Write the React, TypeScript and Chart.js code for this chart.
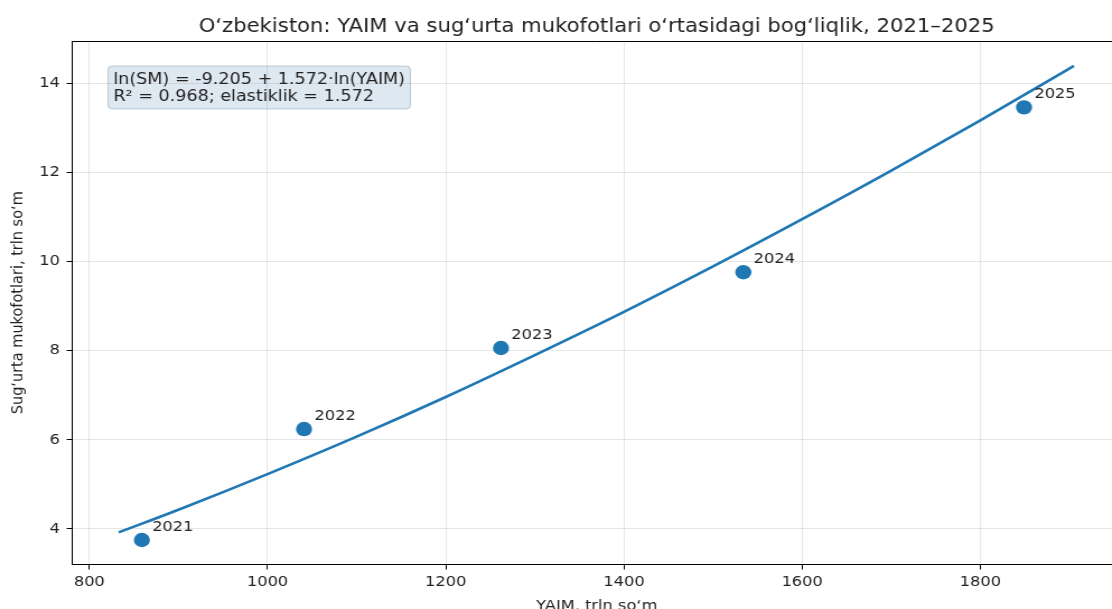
import React, { useEffect, useRef } from "react";
import { Chart, registerables } from "chart.js";

Chart.register(...registerables);

// ---- data ----
const years = ["2021", "2022", "2023", "2024", "2025"];
const gdp = [859, 1041, 1262, 1534, 1849]; // YAIM, trln so‘m
const premiums = [3.75, 6.24, 8.06, 9.76, 13.46]; // sug‘urta mukofotlari, trln so‘m

// fitted curve
const fitX = [833, 900, 1000, 1100, 1200, 1300, 1400, 1500, 1600, 1700, 1800, 1905];
const fitY = [3.92, 4.43, 5.23, 6.07, 6.96, 7.9, 8.87, 9.89, 10.95, 12.04, 13.17, 14.39];

const xTicks = [800, 1000, 1200, 1400, 1600, 1800];
const xTickLabels = ["800", "1000", "1200", "1400", "1600", "1800"];
const yTicks = [4, 6, 8, 10, 12, 14];
const yTickLabels = ["4", "6", "8", "10", "12", "14"];

const titleText = "O‘zbekiston: YAIM va sug‘urta mukofotlari o‘rtasidagi bog‘liqlik, 2021–2025";
const xTitle = "YAIM, trln so‘m";
const yTitle = "Sug‘urta mukofotlari, trln so‘m";
const boxLines = ["ln(SM) = -9.205 + 1.572·ln(YAIM)", "R² = 0.968; elastiklik = 1.572"];

// ---- layout ----
const SX = 1.12;
const W = 1010;
const H = 625;
const PLOT_LEFT = 64.55;
const PLOT_RIGHT = 1001.2;
const PLOT_TOP = 41;
const PLOT_BOTTOM = 564.5;
const X_AXIS_H = 40;
const FONT = '"DejaVu Sans", sans-serif';
const BLUE = "#1f77b4";
const TEXT = "#222";

const overlay = {
  id: "overlay",
  afterDatasetsDraw(chart: any) {
    const { ctx, chartArea: a, scales } = chart;
    ctx.save();
    // top and right spines
    ctx.strokeStyle = "#000";
    ctx.lineWidth = 1;
    ctx.beginPath();
    ctx.moveTo(a.left, a.top + 0.5);
    ctx.lineTo(a.right, a.top + 0.5);
    ctx.lineTo(a.right, a.bottom);
    ctx.stroke();

    // point labels
    ctx.fillStyle = TEXT;
    ctx.font = `14.5px ${FONT}`;
    ctx.textAlign = "left";
    ctx.textBaseline = "alphabetic";
    years.forEach((yr, i) => {
      const px = scales.x.getPixelForValue(gdp[i]);
      const py = scales.y.getPixelForValue(premiums[i]);
      ctx.fillText(yr, px + 9.2, py - 9);
    });

    // annotation box
    ctx.font = `15.7px ${FONT}`;
    const tx = 101.2;
    const b1 = 83.6;
    const lh = 17.6;
    const wmax = Math.max(...boxLines.map((l) => ctx.measureText(l).width));
    const bx = tx - 4.8;
    const by = 66;
    const bw = wmax + 9.6;
    const bh = 43;
    ctx.beginPath();
    ctx.roundRect(bx, by, bw, bh, 4);
    ctx.fillStyle = "rgba(70,130,180,0.18)";
    ctx.fill();
    ctx.strokeStyle = "rgba(90,120,150,0.35)";
    ctx.lineWidth = 1;
    ctx.stroke();
    ctx.fillStyle = TEXT;
    boxLines.forEach((l, i) => ctx.fillText(l, tx, b1 + i * lh));

    // title
    const cx = (a.left + a.right) / 2;
    ctx.font = `18.9px ${FONT}`;
    ctx.textAlign = "center";
    ctx.fillText(titleText, cx, 31.5);

    // x axis title
    ctx.font = `14.5px ${FONT}`;
    ctx.fillText(xTitle, cx, 609.5);

    // y axis title
    ctx.translate(19.6, (a.top + a.bottom) / 2);
    ctx.rotate(-Math.PI / 2);
    ctx.fillText(yTitle, 0, 0);
    ctx.restore();
  },
};

export default function App() {
  const ref = useRef<HTMLCanvasElement | null>(null);

  useEffect(() => {
    if (!ref.current) return;
    const gridColor = "rgba(176,176,176,0.32)";
    const tickFont = { family: FONT, size: 14.5 };
    const chart = new Chart(ref.current, {
      type: "scatter",
      data: {
        datasets: [
          {
            type: "line",
            data: fitX.map((x, i) => ({ x, y: fitY[i] })),
            borderColor: BLUE,
            borderWidth: 2.6,
            pointRadius: 0,
            fill: false,
            cubicInterpolationMode: "monotone",
            order: 2,
          } as any,
          {
            type: "scatter",
            data: gdp.map((x, i) => ({ x, y: premiums[i] })),
            backgroundColor: BLUE,
            borderColor: BLUE,
            borderWidth: 0,
            pointRadius: 7.2,
            order: 1,
          },
        ],
      },
      options: {
        animation: false,
        responsive: false,
        devicePixelRatio: 1,
        layout: {
          padding: {
            left: 0,
            right: W - PLOT_RIGHT,
            top: PLOT_TOP,
            bottom: H - PLOT_BOTTOM - X_AXIS_H,
          },
        },
        plugins: {
          legend: { display: false },
          tooltip: { enabled: false },
          title: { display: false },
        },
        scales: {
          x: {
            type: "linear",
            min: 780.9,
            max: 1958,
            afterBuildTicks: (s: any) => {
              s.ticks = xTicks.map((v) => ({ value: v }));
            },
            afterFit: (s: any) => {
              s.height = X_AXIS_H;
            },
            ticks: {
              font: tickFont,
              color: TEXT,
              padding: 4,
              maxRotation: 0,
              autoSkip: false,
              callback: (v: any) => xTickLabels[xTicks.indexOf(Number(v))] ?? "",
            },
            grid: { color: gridColor, tickColor: "#000", tickLength: 5, lineWidth: 1 },
            border: { color: "#000", width: 1 },
          },
          y: {
            type: "linear",
            min: 3.2,
            max: 14.95,
            afterBuildTicks: (s: any) => {
              s.ticks = yTicks.map((v) => ({ value: v }));
            },
            afterFit: (s: any) => {
              s.width = PLOT_LEFT;
            },
            ticks: {
              font: tickFont,
              color: TEXT,
              padding: 6,
              autoSkip: false,
              callback: (v: any) => yTickLabels[yTicks.indexOf(Number(v))] ?? "",
            },
            grid: { color: gridColor, tickColor: "#000", tickLength: 5, lineWidth: 1 },
            border: { color: "#000", width: 1 },
          },
        },
      },
      plugins: [overlay],
    });
    return () => chart.destroy();
  }, []);

  return (
    <div
      style={{
        position: "fixed",
        left: 0,
        top: 0,
        width: 1112,
        height: 609,
        overflow: "hidden",
        background: "#fff",
      }}
    >
      <canvas
        ref={ref}
        width={W}
        height={H}
        style={{ display: "block", width: `${W * SX}px`, height: `${H}px` }}
      />
    </div>
  );
}
